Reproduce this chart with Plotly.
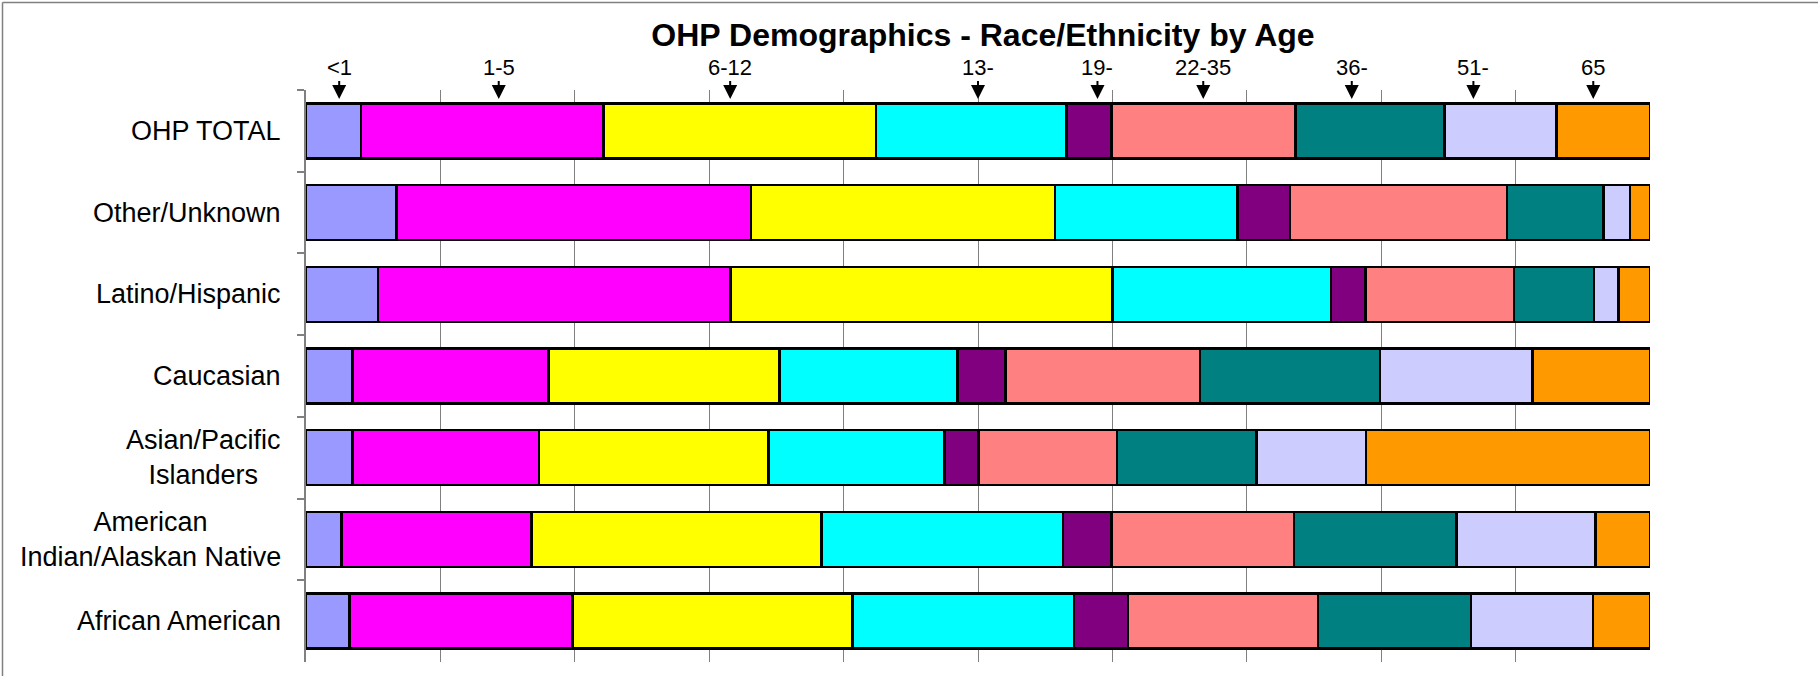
import plotly.graph_objects as go

# ---------------- data ----------------
categories = [
    "OHP TOTAL",
    "Other/Unknown",
    "Latino/Hispanic",
    "Caucasian",
    "Asian/Pacific Islanders",
    "American Indian/Alaskan Native",
    "African American",
]
category_labels = [
    "OHP TOTAL",
    "Other/Unknown",
    "Latino/Hispanic",
    "Caucasian",
    "Asian/Pacific<br>Islanders",
    "American<br>Indian/Alaskan Native",
    "African American",
]
age_groups = ["<1", "1-5", "6-12", "13-18", "19-21", "22-35", "36-50", "51-64", "65+"]

# percent share of each age group, per category (same order as categories)
age_lt1 = [4.10, 6.74, 5.34, 3.46, 3.46, 2.65, 3.24]
age_1_5 = [18.05, 26.38, 26.25, 14.60, 13.87, 14.13, 16.60]
age_6_12 = [20.27, 22.62, 28.42, 17.16, 17.07, 21.56, 20.83]
age_13_18 = [14.18, 13.55, 16.26, 13.27, 13.10, 17.97, 16.48]
age_19_21 = [3.33, 3.91, 2.56, 3.55, 2.52, 3.64, 4.02]
age_22_35 = [13.68, 16.17, 11.06, 14.46, 10.31, 13.56, 14.11]
age_36_50 = [11.10, 7.18, 5.96, 13.41, 10.38, 12.09, 11.40]
age_51_64 = [8.34, 1.98, 1.81, 11.34, 8.17, 10.35, 9.09]
age_65 = [6.94, 1.46, 2.35, 8.75, 21.11, 4.05, 4.22]

series_values = [age_lt1, age_1_5, age_6_12, age_13_18, age_19_21,
                 age_22_35, age_36_50, age_51_64, age_65]

# arrow labels across the top and their positions along the percent axis
top_labels = ["<1", "1-5", "6-12", "13-", "19-", "22-35", "36-", "51-", "65"]
top_label_pos = [2.47, 14.34, 31.56, 50.0, 58.89, 66.76, 77.81, 86.86, 95.78]

colors = ["#9999FF", "#FF00FF", "#FFFF00", "#00FFFF", "#800080",
          "#FF8080", "#008080", "#CCCCFF", "#FF9900"]

FONT = "Arial, Liberation Sans, sans-serif"

# ---------------- figure ----------------
W, H = 1818, 676
L, R, T, B = 306, 168, 90, 14
PW, PH = W - L - R, H - T - B

fig = go.Figure()
for name, vals, col in zip(age_groups, series_values, colors):
    fig.add_trace(go.Bar(
        y=categories, x=vals, name=name, orientation="h",
        marker=dict(color=col, line=dict(color="black", width=2.5)),
        hoverinfo="x+y+name",
    ))

annotations = []
# category labels (centered multi-line, right anchored)
for cat, lab in zip(categories, category_labels):
    annotations.append(dict(
        x=0, xref="paper", y=cat, yref="y", text=lab, showarrow=False,
        xanchor="right", yanchor="middle", align="center", xshift=-23,
        font=dict(family=FONT, size=27, color="black"),
    ))

# age-group labels with downward arrows
tip_paper_y = (H - B - 99) / PH
for lab, pos in zip(top_labels, top_label_pos):
    annotations.append(dict(
        x=pos, xref="x", y=tip_paper_y, yref="paper", text=lab,
        showarrow=True, arrowhead=2, arrowsize=1.4, arrowwidth=2,
        arrowcolor="black", ax=0, ay=-32, standoff=0,
        font=dict(family=FONT, size=22, color="black"),
    ))

def px_x(p):
    return (p - L) / PW

def px_y(p):
    return (H - B - p) / PH

shapes = [
    dict(type="line", xref="paper", yref="paper",
         x0=px_x(2.5), x1=px_x(W), y0=px_y(2.5), y1=px_y(2.5),
         line=dict(color="#808080", width=1.5)),
    dict(type="line", xref="paper", yref="paper",
         x0=px_x(2.5), x1=px_x(2.5), y0=px_y(2.5), y1=px_y(H),
         line=dict(color="#808080", width=1.5)),
]

fig.update_layout(
    width=W, height=H,
    margin=dict(l=L, r=R, t=T, b=B, pad=0),
    barmode="stack", bargap=0.327,
    paper_bgcolor="white", plot_bgcolor="white",
    showlegend=False,
    title=dict(
        text="<b>OHP Demographics - Race/Ethnicity by Age</b>",
        x=983 / W, xref="container", xanchor="center",
        y=1 - 35 / H, yref="container", yanchor="middle",
        font=dict(family=FONT, size=32, color="black"),
    ),
    xaxis=dict(
        range=[0, 100], dtick=10, tick0=0, showgrid=True,
        gridcolor="#808080", gridwidth=1, zeroline=False,
        showline=False, showticklabels=False, ticks="",
        fixedrange=True,
    ),
    yaxis=dict(
        type="category", categoryorder="array", categoryarray=categories,
        autorange="reversed", showgrid=False, zeroline=False,
        showline=True, linecolor="#808080", linewidth=1.5,
        ticks="outside", tickson="boundaries", ticklen=7,
        tickcolor="#808080", tickwidth=1.5, showticklabels=False,
        fixedrange=True,
    ),
    annotations=annotations,
    shapes=shapes,
)

fig.write_html(
    "out.html",
    config={"displayModeBar": False},
    post_script="document.body.style.margin='0px';document.body.style.overflow='hidden';",
)
